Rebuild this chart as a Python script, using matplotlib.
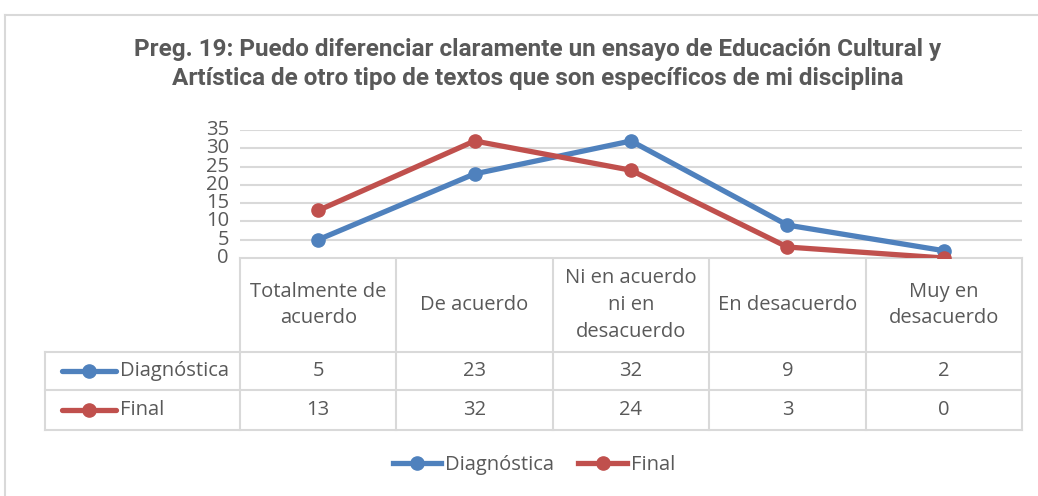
import matplotlib.pyplot as plt
from matplotlib.lines import Line2D

# data
categories = ["Totalmente de\nacuerdo", "De acuerdo", "Ni en acuerdo\nni en\ndesacuerdo",
              "En desacuerdo", "Muy en\ndesacuerdo"]
diagnostica = [5, 23, 32, 9, 2]
final = [13, 32, 24, 3, 0]
series_names = ["Diagnóstica", "Final"]
title = ("Preg. 19: Puedo diferenciar claramente un ensayo de Educación Cultural y\n"
         "Artística de otro tipo de textos que son específicos de mi disciplina")

blue = "#4F81BD"
red = "#C0504D"
txt = "#595959"
grid = "#D9D9D9"
font = ["Open Sans", "DejaVu Sans"]
fs = 14.5

W, H = 1038, 496
fig = plt.figure(figsize=(W / 100, H / 100), dpi=100)

# overlay in pixel coordinates for frame + table
ov = fig.add_axes([0, 0, 1, 1])
ov.set_xlim(0, W)
ov.set_ylim(H, 0)
ov.axis("off")
ov.plot([5, W], [15, 15], color=grid, lw=1.5)
ov.plot([5, 5], [15, H], color=grid, lw=1.5)

# line chart area
x0, x1, ytop, ybot = 240, 1022, 130, 258
ax = fig.add_axes([x0 / W, 1 - ybot / H, (x1 - x0) / W, (ybot - ytop) / H])
xs = list(range(len(categories)))
ax.plot(xs, diagnostica, color=blue, lw=3.8, marker="o", ms=9.5, solid_capstyle="round")
ax.plot(xs, final, color=red, lw=3.8, marker="o", ms=9.5, solid_capstyle="round")
ax.set_xlim(-0.5, len(categories) - 0.5)
ax.set_ylim(0, 35)
ax.set_yticks(range(0, 36, 5))
ax.set_xticks([])
ax.grid(axis="y", color=grid, lw=1.5)
ax.set_axisbelow(True)
for s in ax.spines.values():
    s.set_visible(False)
ax.tick_params(axis="y", length=0, pad=8, labelsize=14.5, labelcolor=txt)
for lab in ax.get_yticklabels():
    lab.set_family(font)
    lab.set_va("center")

# title
fig.text(0.5 * (133 + 943) / W, 1 - 64 / H, title, ha="center", va="center",
         fontsize=17.5, fontweight="bold", color=txt, linespacing=1.3,
         family=["Roboto", "DejaVu Sans"])

# data table
colw = (x1 - x0) / len(categories)
cols = [x0 + i * colw for i in range(len(categories) + 1)]
y_head, y_r1, y_r2, y_end = 258, 352, 390, 430
lbl_x = 45
ov.plot([x0, x1], [y_head, y_head], color=grid, lw=1.5)
for yy in (y_r1, y_r2, y_end):
    ov.plot([lbl_x, x1], [yy, yy], color=grid, lw=1.5)
for cx in cols:
    ov.plot([cx, cx], [y_head, y_end], color=grid, lw=1.5)
ov.plot([lbl_x, lbl_x], [y_r1, y_end], color=grid, lw=1.5)

for i, cat in enumerate(categories):
    cx = cols[i] + colw / 2
    ov.text(cx, (y_head + y_r1) / 2, cat, ha="center", va="center", fontsize=fs,
            color=txt, family=font, linespacing=1.45)
    ov.text(cx, (y_r1 + y_r2) / 2, str(diagnostica[i]), ha="center", va="center",
            fontsize=fs, color=txt, family=font)
    ov.text(cx, (y_r2 + y_end) / 2, str(final[i]), ha="center", va="center",
            fontsize=fs, color=txt, family=font)

for (name, col, ya, yb) in [(series_names[0], blue, y_r1, y_r2), (series_names[1], red, y_r2, y_end)]:
    yc = (ya + yb) / 2
    ov.plot([62, 116], [yc, yc], color=col, lw=3.8, solid_capstyle="round")
    ov.plot([89], [yc], marker="o", ms=9.5, color=col)
    ov.text(120, yc, name, ha="left", va="center", fontsize=fs, color=txt, family=font)

# legend
handles = [Line2D([], [], color=blue, lw=3.8, marker="o", ms=9.5),
           Line2D([], [], color=red, lw=3.8, marker="o", ms=9.5)]
leg = fig.legend(handles, series_names, loc="center", bbox_to_anchor=(534 / W, 1 - 465 / H),
                 ncol=2, frameon=False, handlelength=2.4, handletextpad=0.2,
                 columnspacing=1.2, prop={"family": font, "size": fs})
for t in leg.get_texts():
    t.set_color(txt)

fig.savefig("out.png", dpi=100)
